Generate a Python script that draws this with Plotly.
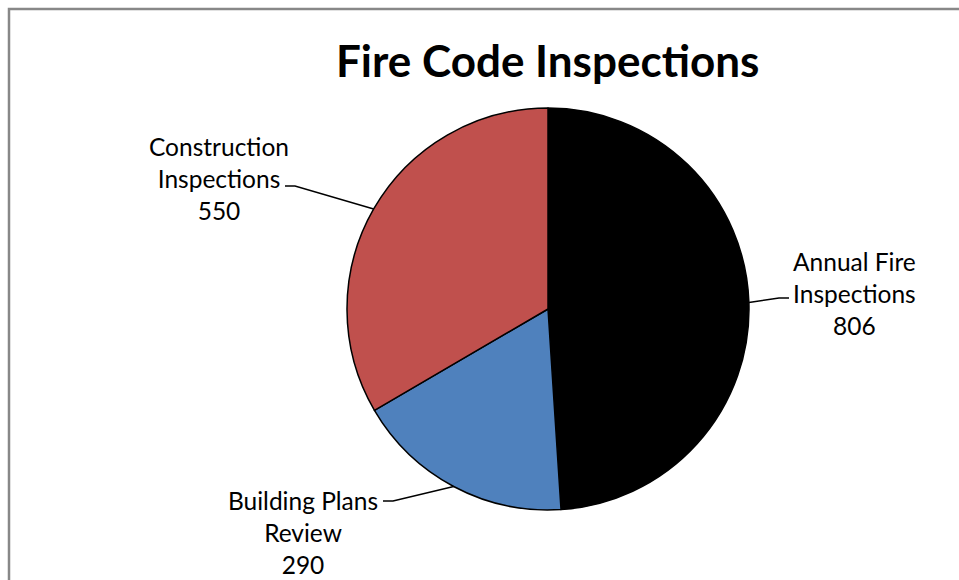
import math
import plotly.graph_objects as go

W, H = 959, 580

categories = ["Annual Fire Inspections", "Building Plans Review", "Construction Inspections"]
label_lines = ["Annual Fire<br>Inspections", "Building Plans<br>Review", "Construction<br>Inspections"]
values = [806, 290, 550]
colors = ["#000000", "#4F81BD", "#C0504D"]

# pie geometry in pixels (layout only)
cx, cy, r = 548, 309, 201
# where each label's leader line ends, and where the label text sits
line_end = [(789, 298), (383, 501), (285, 186)]
text_pos = [(854, 293), (303, 532), (219, 178)]


def px(x):
    return x / W


def py(y):
    return 1 - y / H


fig = go.Figure()
fig.add_trace(go.Pie(
    labels=categories,
    values=values,
    sort=False,
    direction="clockwise",
    rotation=0,
    marker=dict(colors=colors, line=dict(color="#000000", width=1.5)),
    textinfo="none",
    hoverinfo="label+value",
    showlegend=False,
    domain=dict(x=[px(cx - r), px(cx + r)], y=[py(cy + r), py(cy - r)]),
))

# leader lines from each slice's mid angle out to its label
total = sum(values)
start = 0.0
shapes = []
annotations = []
for i, v in enumerate(values):
    mid = (start + v / 2) / total * 2 * math.pi
    start += v
    ex = cx + r * math.sin(mid)
    ey = cy - r * math.cos(mid)
    lx, ly = line_end[i]
    hx = lx + (10 if lx < ex else -10)
    shapes.append(dict(type="path", xref="paper", yref="paper",
                       path=f"M {px(ex)} {py(ey)} L {px(hx)} {py(ly)} L {px(lx)} {py(ly)}",
                       line=dict(color="#000000", width=1.5)))
    tx, ty = text_pos[i]
    annotations.append(dict(x=px(tx), y=py(ty), xref="paper", yref="paper",
                            text=f"{label_lines[i]}<br>{v}", showarrow=False,
                            xanchor="center", yanchor="middle", align="center",
                            font=dict(family="Lato", size=24.5, color="#000000")))

# chart border
shapes.append(dict(type="rect", xref="paper", yref="paper",
                   x0=px(9), y0=py(9), x1=px(W + 20), y1=py(H + 20),
                   line=dict(color="#888888", width=2.5), layer="below"))

annotations.append(dict(x=px(547), y=py(60), xref="paper", yref="paper",
                        text="<b>Fire Code Inspections</b>", showarrow=False,
                        xanchor="center", yanchor="middle",
                        font=dict(family="Lato", size=44, color="#000000")))

fig.update_layout(
    width=W, height=H,
    margin=dict(l=0, r=0, t=0, b=0),
    paper_bgcolor="white",
    plot_bgcolor="white",
    shapes=shapes,
    annotations=annotations,
)

fig.write_html("out.html", config={"displayModeBar": False},
               post_script="document.body.style.margin='0';document.body.style.overflow='hidden';")
